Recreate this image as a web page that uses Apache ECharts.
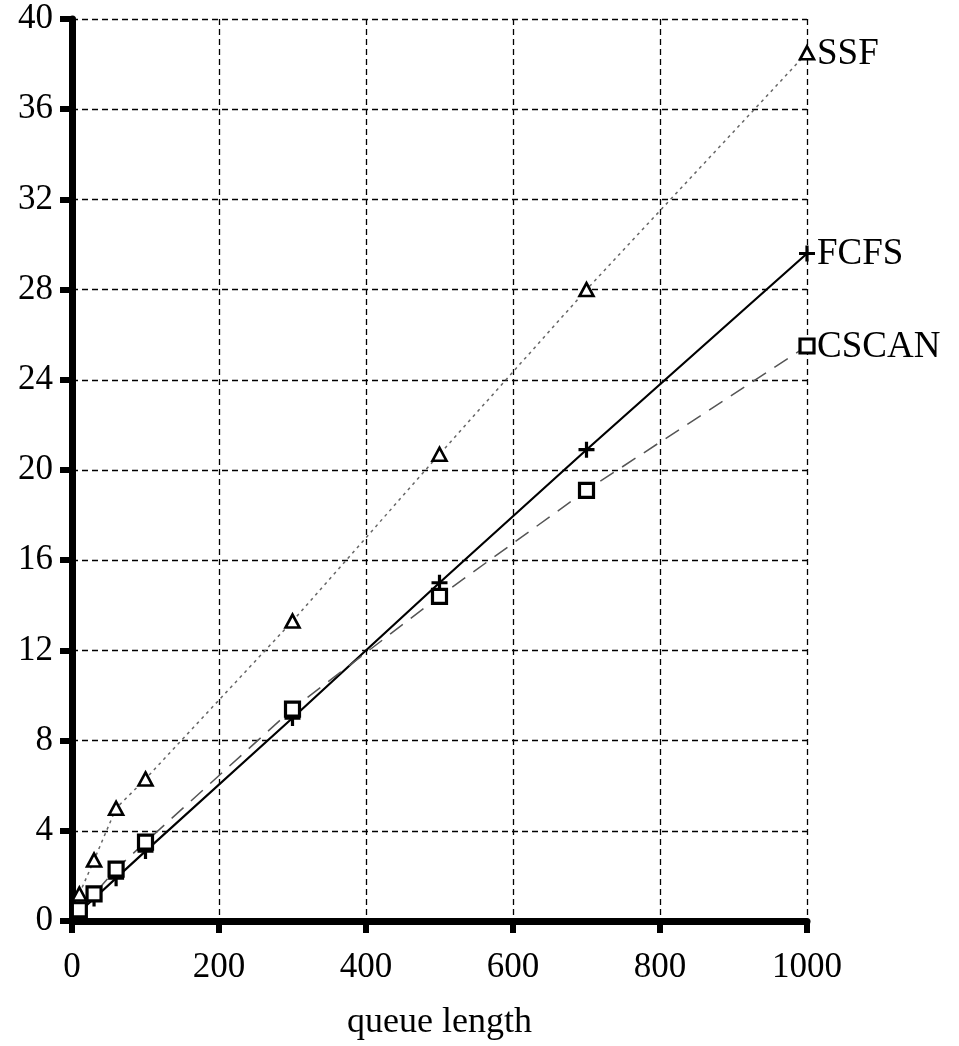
<!DOCTYPE html>
<html>
<head>
<meta charset="utf-8">
<script src="https://cdn.jsdelivr.net/npm/echarts@6/dist/echarts.min.js"></script>
<style>html,body{margin:0;padding:0;background:#fff}#c{width:959px;height:1046px}</style>
</head>
<body>
<div id="c"></div>
<script>
const queueLength = [10, 30, 60, 100, 300, 500, 700, 1000];
const ssf   = [1.2, 2.7, 5.0, 6.3, 13.3, 20.7, 28.0, 38.5];
const fcfs  = [0.4, 1.0, 1.9, 3.1, 9.0, 15.0, 20.9, 29.6];
const cscan = [0.5, 1.2, 2.3, 3.5, 9.4, 14.4, 19.1, 25.5];
const xTicks = [0, 200, 400, 600, 800, 1000];
const yTicks = [0, 4, 8, 12, 16, 20, 24, 28, 32, 36, 40];

const pair = (ys) => queueLength.map((x, i) => [x, ys[i]]);
const font = '"Liberation Serif", "DejaVu Serif", serif';
const plusPath = 'path://M4,0H6V4H10V6H6V10H4V6H0V4H4Z';

const chart = echarts.init(document.getElementById('c'), null, {renderer: 'canvas'});
const endLabel = (name) => ({
  show: true, formatter: name, color: '#000', fontFamily: font, fontSize: 37, distance: 10, offset: [0, 1]
});
chart.setOption({
  animation: false,
  backgroundColor: '#fff',
  grid: {left: 72, right: 152, top: 19, bottom: 120, containLabel: false},
  xAxis: {
    type: 'value', min: 0, max: 1000, interval: 200,
    name: 'queue length', nameLocation: 'middle', nameGap: 84,
    nameTextStyle: {fontFamily: font, fontSize: 36, color: '#000'},
    axisLine: {show: true, onZero: false, lineStyle: {color: '#000', width: 7}},
    axisTick: {show: true, length: 12, lineStyle: {color: '#000', width: 6}},
    axisLabel: {fontFamily: font, fontSize: 35, color: '#000', margin: 29,
      formatter: v => xTicks.includes(v) ? String(v) : ''},
    splitLine: {show: true, lineStyle: {color: '#000', width: 1.3, type: [6, 4]}}
  },
  yAxis: {
    type: 'value', min: 0, max: 40, interval: 4,
    axisLine: {show: true, onZero: false, lineStyle: {color: '#000', width: 7}},
    axisTick: {show: true, length: 12, lineStyle: {color: '#000', width: 6}},
    axisLabel: {fontFamily: font, fontSize: 35, color: '#000', margin: 19,
      formatter: v => yTicks.includes(v) ? String(v) : ''},
    splitLine: {show: true, lineStyle: {color: '#000', width: 1.3, type: [6, 4]}}
  },
  series: [
    {
      name: 'SSF', type: 'line', data: pair(ssf),
      symbol: 'triangle', symbolSize: [14, 13], showAllSymbol: true,
      lineStyle: {color: '#666', width: 1.5, type: [3, 4]},
      itemStyle: {color: '#fff', borderColor: '#000', borderWidth: 2.6},
      endLabel: endLabel('SSF'), z: 3
    },
    {
      name: 'FCFS', type: 'line', data: pair(fcfs),
      symbol: plusPath, symbolSize: 16, showAllSymbol: true,
      lineStyle: {color: '#000', width: 2.2},
      itemStyle: {color: '#000', borderWidth: 0},
      endLabel: endLabel('FCFS'), z: 4
    },
    {
      name: 'CSCAN', type: 'line', data: pair(cscan),
      symbol: 'rect', symbolSize: 14, showAllSymbol: true,
      lineStyle: {color: '#555', width: 1.5, type: [16, 10]},
      itemStyle: {color: '#fff', borderColor: '#000', borderWidth: 3.2},
      endLabel: endLabel('CSCAN'), z: 5
    }
  ]
});
</script>
</body>
</html>
